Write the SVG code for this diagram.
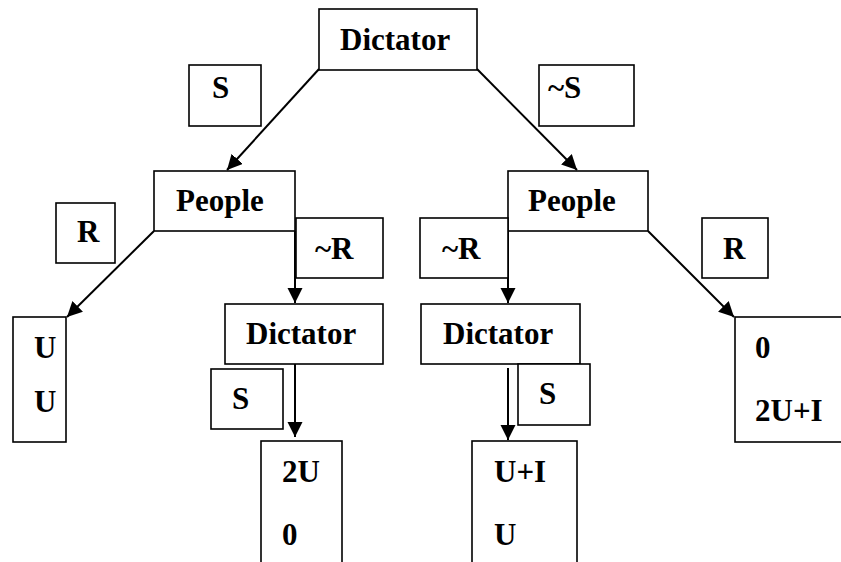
<svg xmlns="http://www.w3.org/2000/svg" width="841" height="562" viewBox="0 0 841 562">
<style>
rect{fill:#fff;stroke:#000;stroke-width:1.6}
text{font-family:"Liberation Serif","Times New Roman",serif;font-weight:bold;font-size:31px;fill:#000}
.c line{stroke:#000;stroke-width:2}
</style>
<defs>
<marker id="ah" markerUnits="userSpaceOnUse" markerWidth="16" markerHeight="16" refX="15" refY="7.5" orient="auto">
<path d="M0,0 L15,7.5 L0,15 z" fill="#000"/>
</marker>
</defs>
<rect width="841" height="562" fill="#fff" style="stroke:none"/>
<g class="c" id="connectors">
<line x1="319" y1="69" x2="227" y2="170" marker-end="url(#ah)"/>
<line x1="477" y1="69" x2="577" y2="170" marker-end="url(#ah)"/>
<line x1="154" y1="231" x2="67" y2="317" marker-end="url(#ah)"/>
<line x1="648" y1="231" x2="734" y2="317" marker-end="url(#ah)"/>
<line x1="295" y1="231" x2="295" y2="303" marker-end="url(#ah)"/>
<line x1="508" y1="231" x2="508" y2="303" marker-end="url(#ah)"/>
<line x1="295" y1="364" x2="295" y2="437" marker-end="url(#ah)"/>
<line x1="508" y1="368" x2="508" y2="440" marker-end="url(#ah)"/>
</g>
<g id="dictator-top"><rect x="319" y="9" width="158" height="61"/><text x="340" y="50">Dictator</text></g>
<g id="label-S-top"><rect x="189" y="65" width="72" height="61"/><text x="212" y="98">S</text></g>
<g id="label-notS-top"><rect x="539" y="65" width="95" height="61"/><text x="548" y="98">~S</text></g>
<g id="people-left"><rect x="154" y="171" width="141" height="60"/><text x="176" y="211">People</text></g>
<g id="people-right"><rect x="508" y="171" width="140" height="60"/><text x="528" y="211">People</text></g>
<g id="label-R-left"><rect x="56" y="203" width="59" height="60"/><text x="77" y="242">R</text></g>
<g id="label-notR-left"><rect x="296" y="218" width="87" height="60"/><text x="315" y="259">~R</text></g>
<g id="label-notR-right"><rect x="420" y="218" width="88" height="60"/><text x="442" y="259">~R</text></g>
<g id="label-R-right"><rect x="702" y="218" width="66" height="60"/><text x="723" y="259">R</text></g>
<g id="payoff-UU"><rect x="13" y="317" width="53" height="125"/><text x="34" y="358">U</text><text x="34" y="412">U</text></g>
<g id="dictator-left"><rect x="225" y="304" width="158" height="60"/><text x="246" y="344">Dictator</text></g>
<g id="dictator-right"><rect x="421" y="304" width="159" height="60"/><text x="443" y="344">Dictator</text></g>
<g id="label-S-left"><rect x="211" y="369" width="72" height="60"/><text x="232" y="409">S</text></g>
<g id="label-S-right"><rect x="518" y="364" width="72" height="61"/><text x="539" y="404">S</text></g>
<g id="payoff-0-2UI"><rect x="735" y="317" width="120" height="125"/><text x="755" y="358">0</text><text x="755" y="421">2U+I</text></g>
<g id="payoff-2U-0"><rect x="261" y="441" width="81" height="140"/><text x="282" y="482">2U</text><text x="282" y="545">0</text></g>
<g id="payoff-UI-U"><rect x="472" y="441" width="105" height="140"/><text x="494" y="482">U+I</text><text x="494" y="545">U</text></g>
</svg>
